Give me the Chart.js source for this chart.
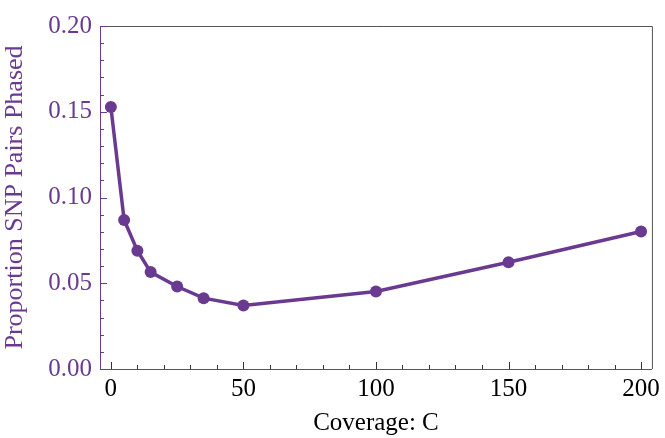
<!DOCTYPE html>
<html><head><meta charset="utf-8">
<script src="https://cdn.jsdelivr.net/npm/chart.js@4/dist/chart.umd.min.js"></script>
<style>html,body{margin:0;padding:0;background:#fff}#w{width:665px;height:438px}</style>
</head><body><div id="w"><canvas id="c" width="665" height="438"></canvas></div>
<script>
const coverage = [0, 5, 10, 15, 25, 35, 50, 100, 150, 200];
const proportion = [0.1528, 0.0869, 0.0690, 0.0565, 0.0481, 0.0413, 0.0370, 0.0452, 0.0622, 0.0802];
const xTicks = [0, 50, 100, 150, 200];
const xMinor = [10,20,30,40,60,70,80,90,110,120,130,140,160,170,180,190];
const yTicks = [0.00, 0.05, 0.10, 0.15, 0.20];
const yMinor = [0.01,0.02,0.03,0.04,0.06,0.07,0.08,0.09,0.11,0.12,0.13,0.14,0.16,0.17,0.18,0.19];

const purple = 'rgb(106,58,145)';
const frame = '#555';

const frameTicks = {
  id: 'frameTicks',
  afterDatasetsDraw(chart) {
    const {ctx, chartArea: a, scales: {x, y}} = chart;
    ctx.save();
    ctx.lineWidth = 1;
    ctx.strokeStyle = frame;
    ctx.beginPath();
    ctx.moveTo(a.left, a.top + 0.5); ctx.lineTo(a.right + 0.5, a.top + 0.5);
    ctx.lineTo(a.right + 0.5, a.bottom);
    ctx.stroke();
    ctx.strokeStyle = '#333';
    ctx.beginPath();
    xTicks.forEach(v => { const p = Math.round(x.getPixelForValue(v)) + 0.5; ctx.moveTo(p, a.bottom); ctx.lineTo(p, a.bottom - 7); });
    xMinor.forEach(v => { const p = Math.round(x.getPixelForValue(v)) + 0.5; ctx.moveTo(p, a.bottom); ctx.lineTo(p, a.bottom - 4); });
    ctx.stroke();
    ctx.strokeStyle = purple;
    ctx.beginPath();
    yTicks.forEach(v => { const p = Math.round(y.getPixelForValue(v)) + 0.5; ctx.moveTo(a.left, p); ctx.lineTo(a.left + 7, p); });
    yMinor.forEach(v => { const p = Math.round(y.getPixelForValue(v)) + 0.5; ctx.moveTo(a.left, p); ctx.lineTo(a.left + 4, p); });
    ctx.stroke();
    ctx.restore();
  }
};

new Chart(document.getElementById('c'), {
  type: 'scatter',
  data: {
    datasets: [{
      data: coverage.map((c, i) => ({x: c, y: proportion[i]})),
      showLine: true,
      borderColor: purple,
      backgroundColor: purple,
      borderWidth: 3.5,
      pointRadius: 6,
      pointHoverRadius: 6,
      pointBorderWidth: 0,
      tension: 0
    }]
  },
  options: {
    responsive: false,
    animation: false,
    devicePixelRatio: 1,
    layout: {padding: {top: 26, right: 10, left: 0, bottom: 0}},
    plugins: {legend: {display: false}, tooltip: {enabled: false}},
    scales: {
      x: {
        type: 'linear', min: -4.1, max: 204.1,
        afterBuildTicks: s => { s.ticks = xTicks.map(v => ({value: v})); },
        afterFit: s => { s.height = 69; },
        grid: {display: false, drawTicks: false},
        border: {display: true, color: frame, width: 1},
        ticks: {color: '#000', font: {family: 'Liberation Serif', size: 25}, padding: 5, maxRotation: 0,
          callback: v => String(v)},
        title: {display: true, text: 'Coverage: C', color: '#000', font: {family: 'Liberation Serif', size: 25}, padding: {top: 4, bottom: 0}}
      },
      y: {
        type: 'linear', min: 0, max: 0.2,
        afterBuildTicks: s => { s.ticks = yTicks.map(v => ({value: v})); },
        afterFit: s => { s.width = 100; },
        grid: {display: false, drawTicks: false},
        border: {display: true, color: purple, width: 1},
        ticks: {color: purple, font: {family: 'Liberation Serif', size: 25}, padding: 8,
          callback: v => v.toFixed(2)},
        title: {display: true, text: 'Proportion SNP Pairs Phased', color: purple, font: {family: 'Liberation Serif', size: 26}, padding: {top: 0, bottom: 4}}
      }
    }
  },
  plugins: [frameTicks]
});
</script></body></html>
